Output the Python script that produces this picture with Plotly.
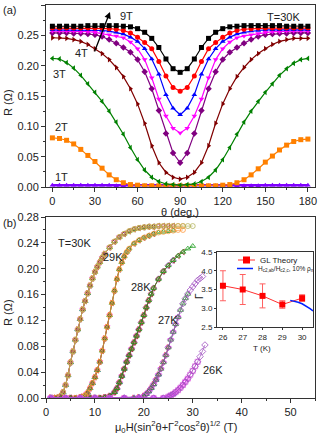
import plotly.graph_objects as go

FONT = "Liberation Sans, Arial, sans-serif"

# ---------------- panel (a): R vs theta at T = 30 K ----------------
THETA = [0, 5, 10, 15, 20, 25, 30, 35, 40, 45, 50, 55, 60, 65, 70, 75, 80, 85, 90,
         95, 100, 105, 110, 115, 120, 125, 130, 135, 140, 145, 150, 155, 160, 165, 170, 175, 180]

R_1T = [0.003, 0.003, 0.003, 0.003, 0.003, 0.003, 0.003, 0.003, 0.003, 0.002, 0.002, 0.002, 0.002, 0.002, 0.002, 0.002, 0.002, 0.002, 0.002,
        0.002, 0.002, 0.002, 0.002, 0.002, 0.002, 0.002, 0.002, 0.002, 0.002, 0.002, 0.003, 0.003, 0.003, 0.003, 0.003, 0.003, 0.003]
R_2T = [0.081, 0.080, 0.077, 0.071, 0.062, 0.052, 0.042, 0.031, 0.020, 0.012, 0.007, 0.004, 0.003, 0.002, 0.002, 0.002, 0.002, 0.002, 0.002,
        0.002, 0.002, 0.002, 0.002, 0.002, 0.003, 0.004, 0.007, 0.012, 0.020, 0.030, 0.041, 0.051, 0.061, 0.069, 0.075, 0.078, 0.079]
R_3T = [0.212, 0.211, 0.205, 0.196, 0.184, 0.170, 0.156, 0.141, 0.125, 0.107, 0.087, 0.065, 0.045, 0.028, 0.016, 0.009, 0.005, 0.004, 0.003,
        0.004, 0.005, 0.009, 0.016, 0.028, 0.045, 0.065, 0.087, 0.107, 0.125, 0.141, 0.156, 0.170, 0.184, 0.195, 0.204, 0.210, 0.212]
R_4T = [0.246, 0.246, 0.245, 0.243, 0.240, 0.235, 0.228, 0.220, 0.210, 0.197, 0.182, 0.162, 0.137, 0.105, 0.068, 0.040, 0.024, 0.016, 0.013,
        0.016, 0.024, 0.040, 0.068, 0.105, 0.137, 0.162, 0.182, 0.197, 0.210, 0.220, 0.228, 0.235, 0.240, 0.243, 0.245, 0.245, 0.245]
R_5T = [0.254, 0.254, 0.254, 0.253, 0.253, 0.252, 0.251, 0.248, 0.243, 0.237, 0.230, 0.222, 0.210, 0.190, 0.162, 0.126, 0.088, 0.056, 0.040,
        0.056, 0.088, 0.126, 0.162, 0.190, 0.210, 0.222, 0.230, 0.237, 0.243, 0.248, 0.251, 0.252, 0.253, 0.253, 0.254, 0.254, 0.254]
R_6T = [0.257, 0.257, 0.257, 0.257, 0.256, 0.256, 0.255, 0.253, 0.251, 0.249, 0.246, 0.239, 0.228, 0.210, 0.180, 0.145, 0.117, 0.097, 0.089,
        0.097, 0.117, 0.145, 0.180, 0.210, 0.228, 0.239, 0.246, 0.249, 0.251, 0.253, 0.255, 0.256, 0.256, 0.257, 0.257, 0.257, 0.257]
R_7T = [0.259, 0.259, 0.259, 0.259, 0.259, 0.259, 0.259, 0.258, 0.257, 0.255, 0.252, 0.247, 0.240, 0.228, 0.211, 0.186, 0.152, 0.130, 0.119,
        0.130, 0.152, 0.186, 0.211, 0.228, 0.240, 0.247, 0.252, 0.255, 0.257, 0.258, 0.259, 0.259, 0.259, 0.259, 0.259, 0.259, 0.259]
R_8T = [0.262, 0.262, 0.262, 0.262, 0.262, 0.262, 0.262, 0.262, 0.261, 0.260, 0.258, 0.254, 0.247, 0.238, 0.228, 0.207, 0.183, 0.164, 0.158,
        0.164, 0.183, 0.207, 0.228, 0.238, 0.247, 0.254, 0.258, 0.260, 0.261, 0.262, 0.262, 0.262, 0.262, 0.262, 0.262, 0.262, 0.262]
R_9T = [0.265, 0.265, 0.265, 0.265, 0.265, 0.266, 0.266, 0.266, 0.266, 0.266, 0.265, 0.264, 0.261, 0.255, 0.245, 0.230, 0.211, 0.195, 0.189,
        0.195, 0.211, 0.230, 0.245, 0.255, 0.261, 0.264, 0.265, 0.266, 0.266, 0.266, 0.266, 0.266, 0.266, 0.265, 0.265, 0.265, 0.265]

FIELD_LABELS = ["1T", "2T", "3T", "4T", "5T", "6T", "7T", "8T", "9T"]
FIELD_CURVES = [R_1T, R_2T, R_3T, R_4T, R_5T, R_6T, R_7T, R_8T, R_9T]
FIELD_COLORS = ["#8000ff", "#ff8000", "#008000", "#800000", "#800080", "#ff00ff", "#0000ff", "#ff0000", "#000000"]
FIELD_SYMBOLS = ["triangle-up", "square", "triangle-left", "triangle-right", "diamond", "triangle-down", "triangle-up", "circle", "square"]

# ---------------- panel (b): scaled R(H) curves ----------------
T30_H = [1, 1.5, 2, 2.5, 3, 3.5, 4, 4.5, 5, 5.5, 6, 6.5, 7, 7.5, 8, 8.5, 9, 9.5, 10, 10.5,
         11, 11.5, 12, 13, 14, 15, 16, 17, 18, 19, 20, 21, 22, 23, 24, 25, 26, 27, 28, 29, 30]
T30_R = [0, 0, 0, 0.001, 0.003, 0.009, 0.020, 0.035, 0.055, 0.072, 0.090, 0.106, 0.122, 0.137, 0.150, 0.162, 0.174, 0.185, 0.195, 0.203,
         0.210, 0.217, 0.223, 0.233, 0.242, 0.249, 0.254, 0.258, 0.261, 0.263, 0.264, 0.265, 0.265, 0.266, 0.266, 0.266, 0.266, 0.266, 0.266, 0.266, 0.266]

T29_H = [1, 2, 3, 4, 5, 6, 7, 7.5, 8, 8.5, 9, 9.5, 10, 10.5, 11, 11.5, 12, 12.5, 13, 13.5,
         14, 14.5, 15, 15.5, 16, 16.5, 17, 18, 19, 20, 21, 22, 23, 24, 25, 26, 27, 28]
T29_R = [0, 0, 0, 0, 0, 0, 0.001, 0.002, 0.004, 0.008, 0.015, 0.023, 0.032, 0.043, 0.056, 0.073, 0.092, 0.110, 0.128, 0.147,
         0.166, 0.184, 0.199, 0.210, 0.219, 0.226, 0.231, 0.239, 0.244, 0.248, 0.251, 0.254, 0.256, 0.257, 0.258, 0.259, 0.260, 0.260]

T28_H = [1, 3, 5, 7, 9, 10, 11, 12, 13, 14, 14.5, 15, 15.5, 16, 16.5, 17, 17.5, 18, 18.5, 19,
         19.5, 20, 20.5, 21, 21.5, 22, 23, 24, 25, 26, 27, 28, 29, 30]
T28_R = [0, 0, 0, 0, 0, 0, 0, 0.001, 0.003, 0.009, 0.015, 0.024, 0.034, 0.045, 0.056, 0.066, 0.076, 0.086, 0.096, 0.106,
         0.117, 0.128, 0.140, 0.151, 0.161, 0.170, 0.184, 0.196, 0.205, 0.213, 0.220, 0.226, 0.231, 0.235]

T27_H = [1, 4, 7, 10, 13, 16, 18, 19, 20, 20.5, 21, 21.5, 22, 22.5, 23, 23.5, 24, 24.5, 25, 25.5,
         26, 26.5, 27, 27.5, 28, 28.5, 29, 29.5, 30, 30.5, 31, 31.5, 32]
T27_R = [0, 0, 0, 0, 0, 0, 0, 0.001, 0.003, 0.006, 0.010, 0.015, 0.021, 0.028, 0.036, 0.045, 0.055, 0.066, 0.078, 0.090,
         0.102, 0.114, 0.125, 0.136, 0.146, 0.154, 0.161, 0.167, 0.172, 0.177, 0.182, 0.185, 0.188]

T26_H = [1, 4, 7, 10, 13, 16, 19, 22, 24, 25, 25.5, 26, 26.5, 27, 27.5, 28, 28.5, 29, 29.5, 30,
         30.5, 31, 31.5, 32, 32.5]
T26_R = [0, 0, 0, 0, 0, 0, 0, 0, 0, 0.002, 0.004, 0.006, 0.009, 0.012, 0.016, 0.020, 0.025, 0.030, 0.036, 0.042,
         0.049, 0.056, 0.064, 0.072, 0.082]

STYLES = {
    "olive": ("#b5b560", "circle-open"),
    "orange": ("#ff9a40", "circle-open"),
    "green": ("#1a9a1a", "triangle-up-open"),
    "darkred": ("#a03030", "triangle-left-open"),
    "purple": ("#a050c0", "diamond-open"),
    "magenta": ("#ff40ff", "triangle-down-open"),
    "blue": ("#3040ff", "triangle-up-open"),
    "red": ("#ff3030", "triangle-right-open"),
    "pink": ("#e060e0", "square-open"),
}
# (style, largest scaled field reached by that angle series)
SERIES_30K = [("blue", 9), ("red", 12), ("magenta", 16), ("green", 22), ("darkred", 26), ("orange", 28), ("olive", 30)]
SERIES_29K = [("blue", 11), ("magenta", 13), ("red", 16), ("darkred", 22), ("green", 26), ("orange", 28)]
SERIES_28K = [("blue", 17), ("magenta", 19), ("red", 21), ("orange", 24), ("purple", 26), ("darkred", 28), ("green", 30)]
SERIES_27K = [("blue", 23), ("red", 25), ("magenta", 27), ("green", 29), ("purple", 32)]
SERIES_26K = [("blue", 26), ("magenta", 29), ("pink", 31), ("purple", 32.5)]

TEMP_DATA = [(T30_H, T30_R, SERIES_30K), (T29_H, T29_R, SERIES_29K), (T28_H, T28_R, SERIES_28K),
             (T27_H, T27_R, SERIES_27K), (T26_H, T26_R, SERIES_26K)]

# ---------------- inset: anisotropy vs T ----------------
INSET_T = [26, 27, 28, 29, 30]
GL_GAMMA = [3.60, 3.50, 3.33, 3.10, 3.27]
GL_ERR = [0.40, 0.40, 0.32, 0.10, 0.09]
RATIO_T = [29.4, 29.6, 29.8, 30.0, 30.2, 30.4, 30.55]
RATIO_GAMMA = [3.21, 3.19, 3.16, 3.12, 3.06, 2.99, 2.93]
LEGEND_TEXT = ["GL Theory", "H<sub>c2,ab</sub>/H<sub>c2,c</sub>, 10% ρ<sub>n</sub>"]

W, H = 319, 439


def px(x):
    return x / W


def py(y):
    return 1 - y / H


fig = go.Figure()

for lab, vals, col, sym in zip(FIELD_LABELS, FIELD_CURVES, FIELD_COLORS, FIELD_SYMBOLS):
    fig.add_trace(go.Scatter(
        x=THETA, y=vals, mode="lines+markers", xaxis="x", yaxis="y",
        line=dict(color=col, width=1.2 if lab != "1T" else 2.5),
        marker=dict(symbol=sym, size=5, color=col),
        showlegend=False, name=lab))

for h_vals, r_vals, series in TEMP_DATA:
    for key, hmax in series:
        col, sym = STYLES[key]
        xs = [h for h in h_vals if h <= hmax]
        ys = r_vals[:len(xs)]
        fig.add_trace(go.Scatter(
            x=xs, y=ys, mode="lines+markers", xaxis="x2", yaxis="y2",
            line=dict(color=col, width=0.7),
            marker=dict(symbol=sym, size=5, color=col, line=dict(width=0.8)),
            showlegend=False))

fig.add_trace(go.Scatter(
    x=INSET_T, y=GL_GAMMA, mode="lines+markers", xaxis="x3", yaxis="y3",
    error_y=dict(type="data", array=GL_ERR, color="#ff6060", thickness=1, width=3),
    line=dict(color="#ff3030", width=1),
    marker=dict(symbol="square", size=6, color="#ff0000"),
    name=LEGEND_TEXT[0], showlegend=False))
fig.add_trace(go.Scatter(
    x=RATIO_T, y=RATIO_GAMMA, mode="lines", xaxis="x3", yaxis="y3",
    line=dict(color="#0022ff", width=1.5),
    name=LEGEND_TEXT[1], showlegend=False))

axis_common = dict(showline=True, mirror=True, linecolor="#333333", linewidth=1,
                   showgrid=False, zeroline=False, ticks="outside", ticklen=4, automargin=False,
                   tickcolor="#333333", tickfont=dict(family=FONT, size=11, color="#222222"))
inset_common = dict(showline=True, mirror=True, linecolor="#333333", linewidth=1, showgrid=False,
                    zeroline=False, ticks="outside", ticklen=2, tickcolor="#333333", automargin=False,
                    tickfont=dict(family=FONT, size=8, color="#222222"))

fig.update_layout(
    width=W, height=H, margin=dict(l=0, r=0, t=0, b=0, autoexpand=False),
    paper_bgcolor="white", plot_bgcolor="white",
    font=dict(family=FONT, color="#222222"),
    xaxis=dict(domain=[px(46), px(315)], range=[-4.5, 185], tickvals=[0, 30, 60, 90, 120, 150, 180],
               minor=dict(dtick=15, tick0=0, ticks="outside", ticklen=2, tickcolor="#333333"),
               anchor="y", **axis_common),
    yaxis=dict(domain=[py(187), py(5)], range=[0, 0.30], dtick=0.05, tickformat=".2f",
               minor=dict(dtick=0.025, ticks="outside", ticklen=2, tickcolor="#333333"),
               anchor="x", **axis_common),
    xaxis2=dict(domain=[px(46), px(315)], range=[0, 55], dtick=10,
                minor=dict(dtick=5, ticks="outside", ticklen=2, tickcolor="#333333"),
                anchor="y2", **axis_common),
    yaxis2=dict(domain=[py(398), py(217)], range=[0, 0.28], dtick=0.04, tickformat=".2f",
                minor=dict(dtick=0.02, ticks="outside", ticklen=2, tickcolor="#333333"),
                anchor="x2", **axis_common),
    xaxis3=dict(domain=[px(217), px(313)], range=[25.7, 30.55], tickvals=[26, 27, 28, 29, 30],
                anchor="y3", **inset_common),
    yaxis3=dict(domain=[py(327), py(252)], range=[2.5, 4.5], dtick=0.5, tickformat=".1f",
                anchor="x3", **inset_common),
    showlegend=False,
)


def note(text, x, y, size=11, angle=0, anchor="center"):
    fig.add_annotation(text=text, x=px(x), y=py(y), xref="paper", yref="paper",
                       showarrow=False, textangle=angle, xanchor=anchor, yanchor="middle",
                       font=dict(family=FONT, size=size, color="#222222"))


note("(a)", 9, 10)
note("(b)", 9, 223)
note("R (Ω)", 8, 103, angle=-90)
note("R (Ω)", 8, 313, angle=-90)
note("θ (deg.)", 180, 212)
note("μ<sub>0</sub>H(sin<sup>2</sup>θ+Γ<sup>2</sup>cos<sup>2</sup>θ)<sup>1/2</sup> (T)", 176, 427)
note("9T", 126, 16)
note("4T", 81, 53)
note("3T", 59, 74)
note("2T", 61, 127)
note("1T", 61, 177)
note("T=30K", 283, 17)
note("T=30K", 74, 243)
note("29K", 113, 257)
note("28K", 141, 287)
note("27K", 168, 320)
note("26K", 213, 370)
note("Γ", 199, 296, size=10, angle=-90)
note("T (K)", 262, 348, size=8)

# inset legend (drawn as keys + text)
note(LEGEND_TEXT[0], 258, 260, size=8, anchor="left")
note(LEGEND_TEXT[1], 256, 269, size=6.5, anchor="left")
fig.add_shape(type="line", xref="paper", yref="paper", x0=px(238), x1=px(255), y0=py(260), y1=py(260),
              line=dict(color="#ff3030", width=1))
fig.add_shape(type="rect", xref="paper", yref="paper", x0=px(243), x1=px(250), y0=py(263.5), y1=py(256.5),
              line=dict(color="#ff0000", width=0), fillcolor="#ff0000")
fig.add_shape(type="line", xref="paper", yref="paper", x0=px(237), x1=px(253), y0=py(268.5), y1=py(268.5),
              line=dict(color="#0022ff", width=1.5))

fig.add_annotation(x=px(110), y=py(12), ax=-16, ay=41, xref="paper", yref="paper",
                   axref="pixel", ayref="pixel", text="", showarrow=True,
                   arrowhead=2, arrowsize=1, arrowwidth=1.3, arrowcolor="#000000")

fig.write_html("out.html", config={"displayModeBar": False},
               post_script="document.body.style.margin='0';document.body.style.overflow='hidden';")
